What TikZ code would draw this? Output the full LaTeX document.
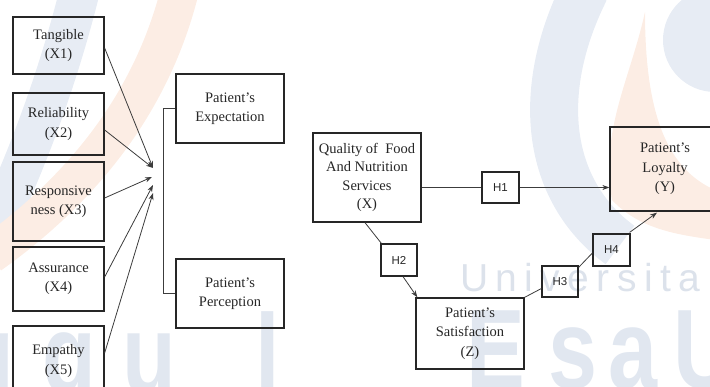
\documentclass[tikz,border=0pt]{standalone}
\usepackage{fontspec}
\setmainfont{Liberation Serif}
\newfontfamily\hsans{Liberation Sans}
\newfontfamily\wmthin[LetterSpace=19]{Liberation Sans}
\newfontfamily\wmbold{Liberation Sans}
\usetikzlibrary{arrows.meta,calc}
\definecolor{boxc}{HTML}{262626}
\definecolor{linec}{HTML}{3C3C3C}
\definecolor{wmblue}{HTML}{E7ECF4}
\definecolor{wmblueb}{HTML}{E1E7F0}
\definecolor{wmorange}{HTML}{FCEDE4}
\definecolor{wmtext}{HTML}{DCE2EB}
\tikzset{
  box/.style={draw=boxc, line width=1.3pt, align=center, inner sep=0pt,
    text=black!85, font=\fontsize{14.5}{19.5}\selectfont},
  hbox/.style={draw=boxc, line width=1.2pt, inner sep=0pt, text=black!85,
    minimum width=36pt, minimum height=31pt, font=\hsans\fontsize{11.5}{13}\selectfont},
  conn/.style={draw=linec, line width=0.8pt},
  arr/.style={conn, -{Stealth[length=7pt,width=5pt]}},
  wmbig/.style={text=wmblueb, inner sep=0pt, font=\wmbold\bfseries\fontsize{113}{113}\selectfont, xscale=0.78},
}
\begin{document}
\begin{tikzpicture}[x=1pt,y=-1pt]
\useasboundingbox (0,0) rectangle (710,387);
\clip (0,0) rectangle (710,387);
% ---------- watermark ----------
\draw[wmblue, line width=40pt] (80,-10) .. controls (55,90) and (20,180) .. (-25,270);
\draw[wmorange, line width=38pt] (180,-10) .. controls (155,90) and (95,180) .. (-10,255);
\draw[wmblue, line width=48pt] (585,-10) .. controls (535,90) and (545,190) .. (620,245);
\fill[wmorange] (645,12) .. controls (630,80) and (600,130) .. (612,200)
   .. controls (640,230) and (680,235) .. (715,240) -- (715,190)
   .. controls (670,170) and (645,120) .. (645,12) -- cycle;
\fill[wmblue] (715,40) circle[radius=52];
\node[text=wmtext, anchor=base west, inner sep=0pt,
  font=\wmthin\fontsize{39}{39}\selectfont] (wmu) at (460,292) {Universita};
\node[wmbig, anchor=base west] (wme) at (466,389) {E};
\node[wmbig, anchor=base west] (wms) at (548,389) {s};
\node[wmbig, anchor=base west] (wma) at (608,389) {a};
\node[wmbig, anchor=base west] (wmU) at (673,389) {U};
\node[wmbig, anchor=base east] (wmg1) at (14,394) {g};
\node[wmbig, anchor=base west] (wmg2) at (42,394) {g};
\node[wmbig, anchor=base west] (wmuu) at (122,394) {u};
\node[wmbig, anchor=base west] (wml) at (255,394) {l};
% ---------- left part ----------
\node[box, minimum width=91pt, minimum height=57pt] (t1) at (58.5,45.5) {Tangible\\(X1)};
\node[box, minimum width=91pt, minimum height=62pt] (t2) at (58.5,124) {Reliability\\(X2)};
\node[box, minimum width=91pt, minimum height=79pt] (t3) at (58.5,201.5) {Responsive\\ness (X3)};
\node[box, minimum width=91pt, minimum height=64pt] (t4) at (58.5,279) {Assurance\\(X4)};
\node[box, minimum width=91pt, minimum height=70pt] (t5) at (58.5,361) {Empathy\\(X5)};
\node[box, minimum width=108pt, minimum height=69pt] (pe) at (230,108.5) {Patient’s\\Expectation};
\node[box, minimum width=108pt, minimum height=69pt] (pp) at (230,293.5) {Patient’s\\Perception};
\coordinate (c1) at (153,168);
\coordinate (c3) at (152,177);
\coordinate (c4) at (153,185);
\coordinate (c5) at (153,193);
\coordinate (bt) at (163,108.5);
\coordinate (bb) at (163,293.5);
\draw[arr] ($(t1.east)+(0,2.5)$) -- (c1);
\draw[arr] ($(t2.east)+(0,6)$) -- (c1);
\draw[arr] ($(t3.east)+(0,-3.5)$) -- (c3);
\draw[arr] ($(t4.east)+(0,-2)$) -- (c4);
\draw[arr] ($(t5.east)+(0,-8)$) -- (c5);
\draw[conn] (pe.west) -- (bt) -- (bb) -- (pp.west);
% ---------- right part ----------
\node[box, minimum width=108pt, minimum height=89pt, font=\fontsize{14.5}{18.5}\selectfont] (q) at (367,177.5)
  {Quality of~ Food\\And Nutrition\\Services\\(X)};
\node[box, minimum width=110pt, minimum height=84pt] (ly) at (665,169) {Patient’s\\Loyalty\\(Y)};
\node[box, minimum width=108pt, minimum height=71pt] (ss) at (470,333.5) {Patient’s\\Satisfaction\\(Z)};
\node[hbox, minimum width=37pt] (h1) at (500.5,187.5) {H1};
\node[hbox, minimum height=32pt] (h2) at (399,260) {H2};
\node[hbox] (h3) at (560,281.5) {H3};
\node[hbox, minimum width=37pt, minimum height=32pt] (h4) at (611.5,250) {H4};
\draw[conn] (q.east |- h1.west) -- (h1.west);
\draw[arr] (h1.east) -- (h1.east -| ly.west);
\draw[conn] ($(q.south)+(-2,0)$) -- ($(h2.north west)+(1,0)$);
\draw[arr] ($(h2.south)+(4,0)$) -- ($(ss.north west)+(2,0)$);
\draw[conn] (ss.north east) -- ($(h3.west)+(0,7)$);
\draw[conn] ($(h3.north east)+(0,2)$) -- ($(h4.west)+(0,3)$);
\draw[arr] ($(h4.north east)+(-1,-1)$) -- ($(ly.south)+(-8,1)$);
\end{tikzpicture}
\end{document}
